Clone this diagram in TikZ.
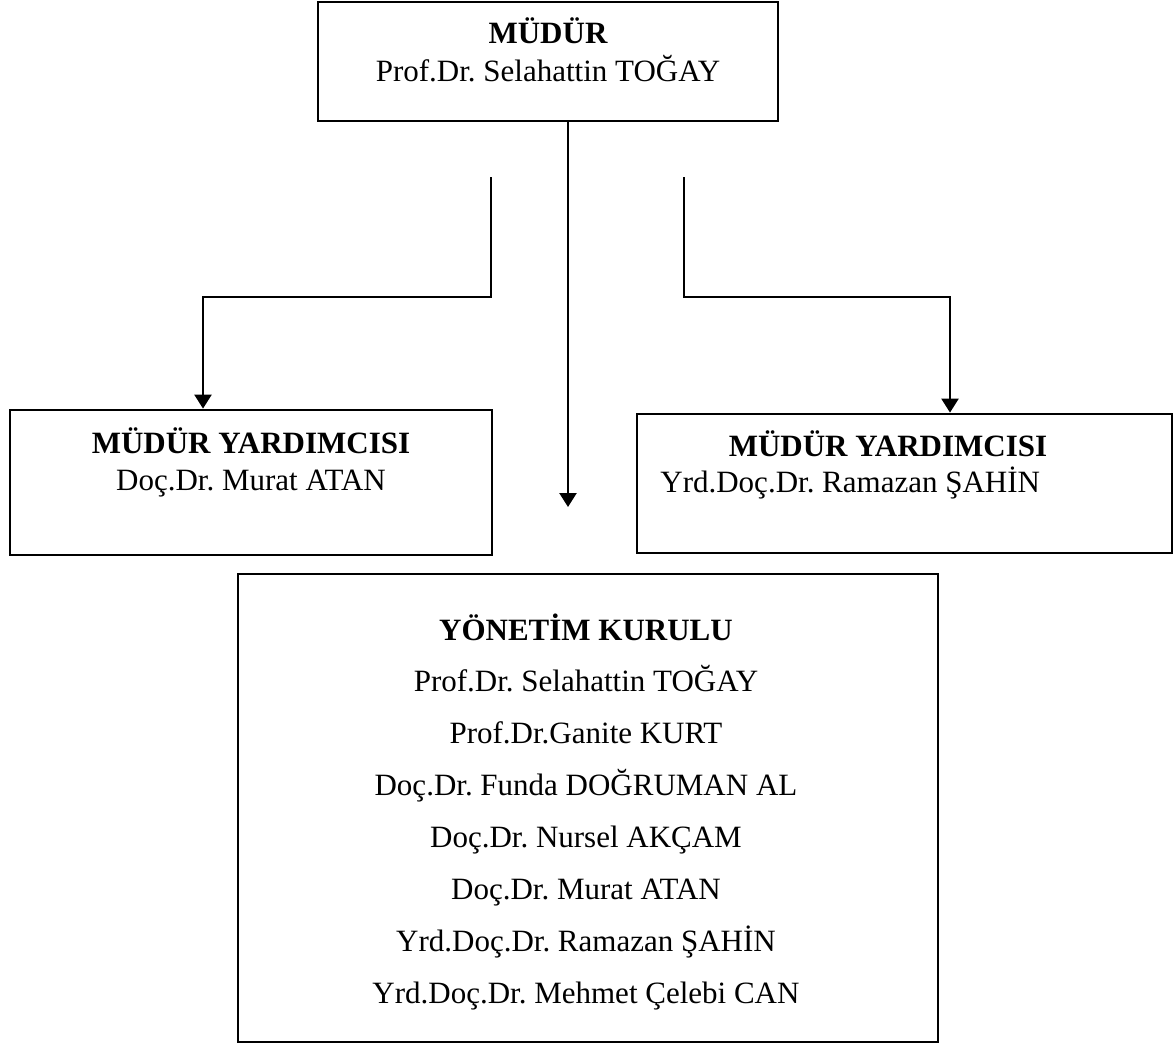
\documentclass[tikz,border=0pt]{standalone}
\usepackage{fontspec}
\setmainfont{Liberation Serif}
\usetikzlibrary{arrows.meta}
\tikzset{>={Triangle[width=8.5pt,length=7pt]}}
\frenchspacing

\begin{document}
\begin{tikzpicture}[x=0.5pt, y=-0.5pt,
	kutu/.style={draw, rectangle, line width=1.4pt, inner sep=0pt},
	baslik/.style={font=\fontsize{15.5}{18}\selectfont\bfseries, anchor=base, inner sep=0pt},
	isim/.style={font=\fontsize{15.5}{18}\selectfont, anchor=base, inner sep=0pt},
	hat/.style={line width=1.2pt}]

		\useasboundingbox (0,0) rectangle (1174,1045);

		% Boxes
		\node[kutu, minimum width=230pt, minimum height=59.5pt] (mudur) at (548,61.5) {};
		\node[kutu, minimum width=241pt, minimum height=72.5pt] (yard1) at (251,482.5) {};
		\node[kutu, minimum width=267.5pt, minimum height=69.5pt] (yard2) at (904.5,483.5) {};
		\node[kutu, minimum width=350pt, minimum height=234pt] (kurul) at (588,808) {};

		% Director
		\node[baslik] (mudurbas) at (548,43) {MÜDÜR};
		\node[isim] (mudurad) at (548,81) {Prof.Dr. Selahattin TOĞAY};

		% Deputies
		\node[baslik] (yard1bas) at (251,453) {MÜDÜR YARDIMCISI};
		\node[isim] (yard1ad) at (251,490) {Doç.Dr. Murat ATAN};
		\node[baslik] (yard2bas) at (888,456) {MÜDÜR YARDIMCISI};
		\node[isim, anchor=base west] (yard2ad) at (660,492) {Yrd.Doç.Dr. Ramazan ŞAHİN};

		% Board
		\node[baslik] (kurulbas) at (586,640) {YÖNETİM KURULU};
		\foreach \ad [count=\i] in {Prof.Dr. Selahattin TOĞAY, Prof.Dr.Ganite KURT,
			Doç.Dr. Funda DOĞRUMAN AL, Doç.Dr. Nursel AKÇAM, Doç.Dr. Murat ATAN,
			Yrd.Doç.Dr. Ramazan ŞAHİN, Yrd.Doç.Dr. Mehmet Çelebi CAN}
			\node[isim] (uye\i) at (586,640+51.9*\i) {\ad};

		% Connectors
		\coordinate (orta) at (568,507);
		\draw[hat,->] (mudur.south -| orta) -- (orta);

		\coordinate (solbas) at (491,177);
		\coordinate (solkose) at (203,297);
		\draw[hat,->] (solbas) |- (solkose) -- (yard1.north -| solkose);

		\coordinate (sagbas) at (684,177);
		\coordinate (sagkose) at (950,297);
		\draw[hat,->] (sagbas) |- (sagkose) -- (yard2.north -| sagkose);

	\end{tikzpicture}
\end{document}
